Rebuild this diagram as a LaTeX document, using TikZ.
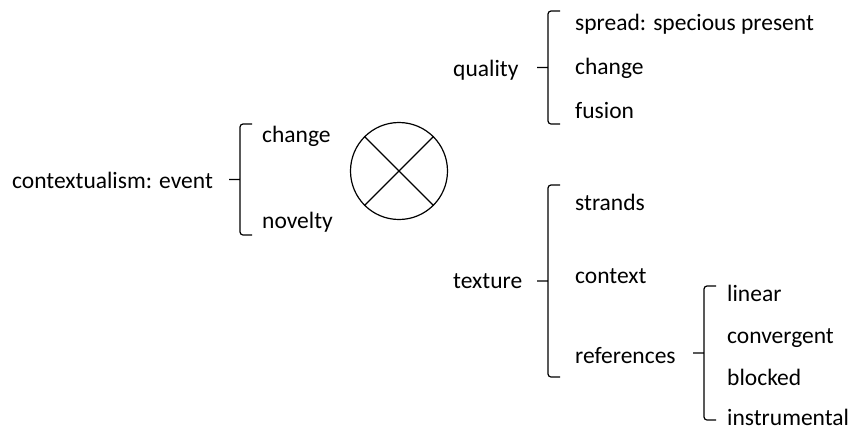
\documentclass[tikz,border=0pt]{standalone}
\usepackage{fontspec}
\setmainfont{Carlito}
\usetikzlibrary{calc}

\begin{document}
\begin{tikzpicture}
[
    x=1bp, y=-1bp,
    every node/.style={inner sep=0pt, anchor=base west, font=\fontsize{23.5bp}{28bp}\selectfont},
    curly/.style={line width=1.2bp, rounded corners=3bp,
        to path={($(\tikztostart)+(12,0)$) -- (\tikztostart) -- (\tikztotarget) -- ($(\tikztotarget)+(12,0)$)
        ($(\tikztostart)!.5!(\tikztotarget)$) -- ++(-11,0)}},
    wheel/.style={draw, circle, line width=1.2bp, minimum size=97bp, anchor=center},
]
\useasboundingbox (0,0) rectangle (850,430);
\node (event) at (12,188) {contextualism: event};
\node (ev-change) at (262,142) {change};
\node (ev-novelty) at (262,228) {novelty};
\node [wheel] (cross) at (399,171) {};
\node (quality) at (453,76) {quality};
\node (qu-spread) at (575,30) {spread: specious present};
\node (qu-change) at (575,74) {change};
\node (qu-fusion) at (575,118) {fusion};
\node (texture) at (453,288) {texture};
\node (tx-strands) at (575,210) {strands};
\node (tx-context) at (575,283) {context};
\node (tx-refs) at (575,363) {references};
\node (rf-linear) at (727,301) {linear};
\node (rf-convergent) at (727,343) {convergent};
\node (rf-blocked) at (727,385) {blocked};
\node (rf-instrumental) at (727,425) {instrumental};
\coordinate (event-top) at (240,124);
\coordinate (event-bot) at (240,235);
\coordinate (quality-top) at (548,11);
\coordinate (quality-bot) at (548,124);
\coordinate (texture-top) at (548,185);
\coordinate (texture-bot) at (548,377);
\coordinate (refs-top) at (704,286);
\coordinate (refs-bot) at (704,420);
\draw [curly] (event-top) to (event-bot);
\draw [curly] (quality-top) to (quality-bot);
\draw [curly] (texture-top) to (texture-bot);
\draw [curly] (refs-top) to (refs-bot);
\draw [line width=1.2bp] (cross.north west) -- (cross.south east)
    (cross.north east) -- (cross.south west);
\end{tikzpicture}
\end{document}
